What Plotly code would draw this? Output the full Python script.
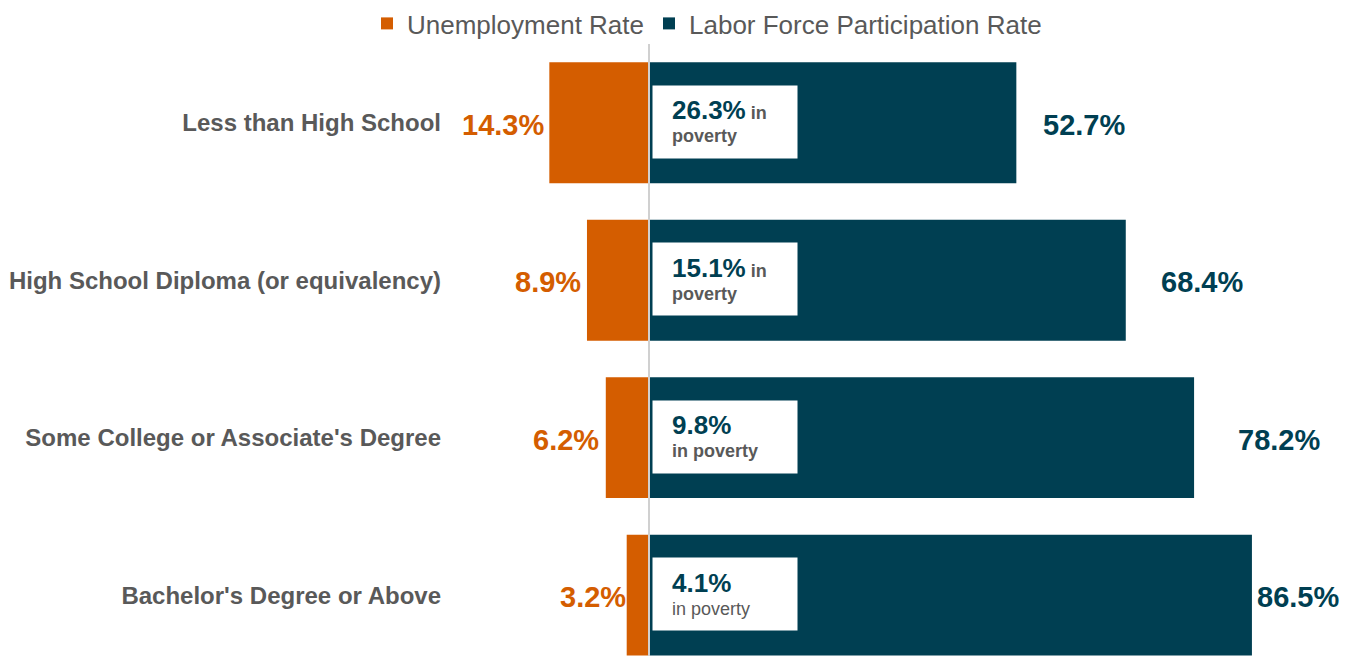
import plotly.graph_objects as go

categories = ["Less than High School", "High School Diploma (or equivalency)",
              "Some College or Associate's Degree", "Bachelor's Degree or Above"]
unemployment = [14.3, 8.9, 6.2, 3.2]
participation = [52.7, 68.4, 78.2, 86.5]
poverty = [26.3, 15.1, 9.8, 4.1]

ORANGE = "#D45D00"
TEAL = "#003F52"
GRAY = "#595959"
FONT = "Arial, Liberation Sans, sans-serif"

fig = go.Figure()
fig.add_trace(go.Bar(
    name="Unemployment Rate", y=categories, x=[-u for u in unemployment],
    orientation="h", marker=dict(color=ORANGE, line=dict(width=0)), width=0.767,
    hoverinfo="skip"))
fig.add_trace(go.Bar(
    name="Labor Force Participation Rate", y=categories, x=participation,
    orientation="h", marker=dict(color=TEAL, line=dict(width=0)), width=0.767,
    hoverinfo="skip"))

# center line
fig.add_shape(type="line", xref="x", yref="paper", x0=0, x1=0, y0=0, y1=1,
              line=dict(color="#D0D0D0", width=2), layer="above")

u_shift = [-3, -4, -5, 1]
p_shift = [25, 33, 42, 3]
for i, cat in enumerate(categories):
    fig.add_annotation(x=-unemployment[i], y=cat, xref="x", yref="y",
                       text=f"<b>{unemployment[i]:.1f}%</b>", showarrow=False,
                       xanchor="right", yanchor="middle", xshift=u_shift[i], yshift=-2,
                       font=dict(family=FONT, size=29, color=ORANGE))
    fig.add_annotation(x=participation[i], y=cat, xref="x", yref="y",
                       text=f"<b>{participation[i]:.1f}%</b>", showarrow=False,
                       xanchor="left", yanchor="middle", xshift=p_shift[i], yshift=-2,
                       font=dict(family=FONT, size=29, color=TEAL))
    # white box
    fig.add_annotation(x=0, y=cat, xref="x", yref="y", text=" ", showarrow=False,
                       xanchor="left", yanchor="middle", xshift=3, yshift=1,
                       width=144, height=72, borderpad=0, bgcolor="white")
    if i < 2:
        txt = (f"<span style='font-size:26px;color:{TEAL}'><b>{poverty[i]:.1f}%</b></span>"
               f" <b>in</b><br><b>poverty</b>")
    elif i == 2:
        txt = (f"<span style='font-size:26px;color:{TEAL}'><b>{poverty[i]:.1f}%</b></span>"
               f"<br><b>in poverty</b>")
    else:
        txt = (f"<span style='font-size:26px;color:{TEAL}'><b>{poverty[i]:.1f}%</b></span>"
               f"<br>in poverty")
    fig.add_annotation(x=0, y=cat, xref="x", yref="y", text=txt, showarrow=False,
                       xanchor="left", yanchor="middle", xshift=21, yshift=2, align="left",
                       font=dict(family=FONT, size=18, color=GRAY))

fig.update_layout(
    width=1353, height=656,
    margin=dict(l=450, r=0, t=44, b=0, autoexpand=False),
    plot_bgcolor="white", paper_bgcolor="white",
    barmode="relative", bargap=0.23,
    showlegend=True,
    legend=dict(orientation="h", xref="container", yref="container",
                x=367 / 1353, y=1.0, xanchor="left", yanchor="top",
                font=dict(family=FONT, size=26, color=GRAY),
                itemwidth=30, traceorder="normal", bgcolor="rgba(0,0,0,0)"),
    xaxis=dict(range=[-28.55, 101.0], showticklabels=False, showgrid=False,
               zeroline=False, showline=False, fixedrange=True),
    yaxis=dict(type="category", categoryorder="array", categoryarray=categories,
               range=[3.386, -0.5], showgrid=False, zeroline=False, showline=False,
               tickvals=categories, ticktext=[f"<b>{c}</b>" for c in categories],
               tickfont=dict(family=FONT, size=24, color=GRAY),
               ticks="", ticklabelstandoff=8, automargin=False),
)

fig.write_html("out.html")
